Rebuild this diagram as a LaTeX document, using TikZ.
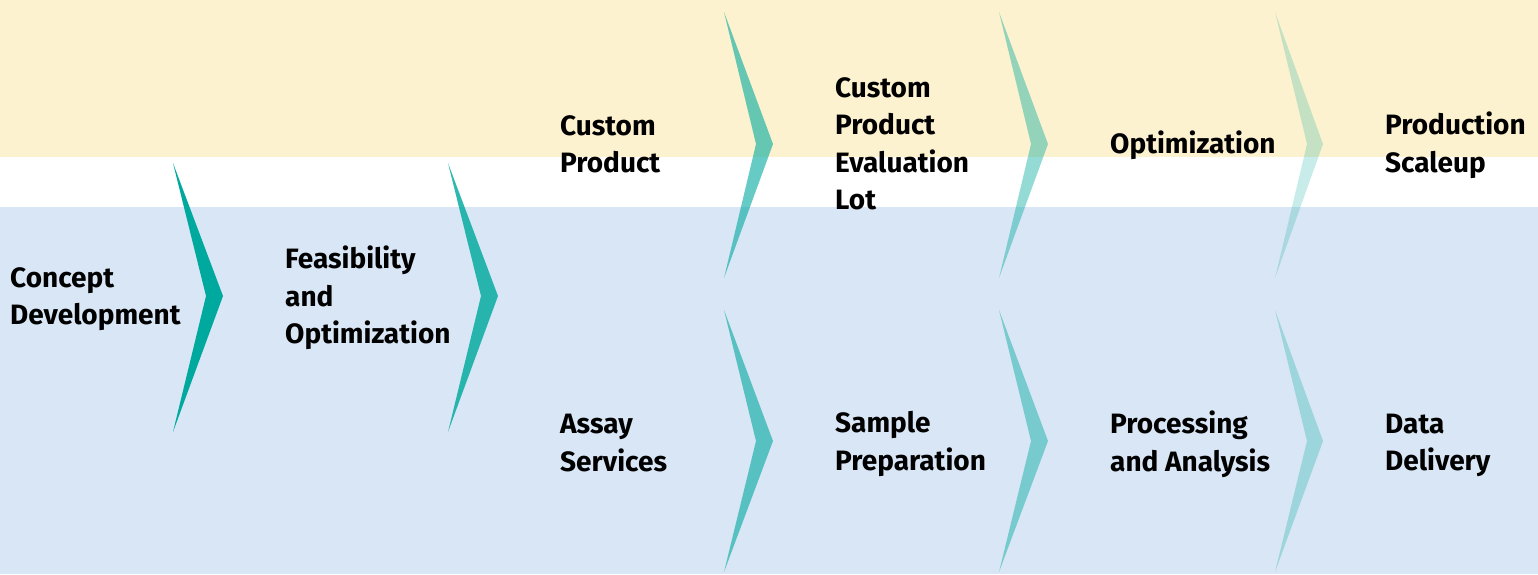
\documentclass[tikz,border=0pt]{standalone}
\usepackage{fontspec}
\setmainfont{Fira Sans}
\definecolor{bandyellow}{RGB}{253,242,208}
\definecolor{bandblue}{RGB}{217,230,245}
\definecolor{chev}{RGB}{0,169,157}
\tikzset{
  lbl/.style={anchor=west, align=left, inner sep=0pt, font=\fontsize{28}{37.5}\selectfont\bfseries},
  chevron/.style={fill=chev, draw=none, fill opacity=#1},
}
\begin{document}
\begin{tikzpicture}[x=1pt,y=-1pt]
\useasboundingbox (0,0) rectangle (1538,574);
\fill[bandyellow] (0,0) rectangle (1538,157);
\fill[bandblue] (0,207) rectangle (1538,574);
% chevrons
\fill[chevron=1] (173,163) -- (223,296) -- (173,432) -- (206,296) -- cycle;
\fill[chevron=0.82] (448,163) -- (498,296) -- (448,432) -- (481,296) -- cycle;
\fill[chevron=0.6] (724,12) -- (773,144) -- (724,278) -- (756,144) -- cycle;
\fill[chevron=0.42] (999,12) -- (1048,144) -- (999,278) -- (1031,144) -- cycle;
\fill[chevron=0.22] (1275,12) -- (1323,144) -- (1275,278) -- (1307,144) -- cycle;
\fill[chevron=0.6] (724,310) -- (773,441) -- (724,572) -- (756,441) -- cycle;
\fill[chevron=0.45] (999,310) -- (1048,441) -- (999,572) -- (1031,441) -- cycle;
\fill[chevron=0.28] (1275,310) -- (1323,441) -- (1275,572) -- (1307,441) -- cycle;
% labels
\node[lbl] (concept) at (10,299) {Concept\\Development};
\node[lbl] (feas) at (285,298) {Feasibility\\and\\Optimization};
\node[lbl] (custom) at (560,144.5) {Custom\\Product};
\node[lbl] (eval) at (835,144) {Custom\\Product\\Evaluation\\Lot};
\node[lbl] (optim) at (1110,145) {Optimization};
\node[lbl] (scale) at (1385,145) {Production\\Scaleup};
\node[lbl] (assay) at (560,443) {Assay\\Services};
\node[lbl] (sample) at (835,444) {Sample\\Preparation};
\node[lbl] (proc) at (1110,444) {Processing\\and Analysis};
\node[lbl] (data) at (1385,445.5) {Data\\Delivery};
\end{tikzpicture}
\end{document}
